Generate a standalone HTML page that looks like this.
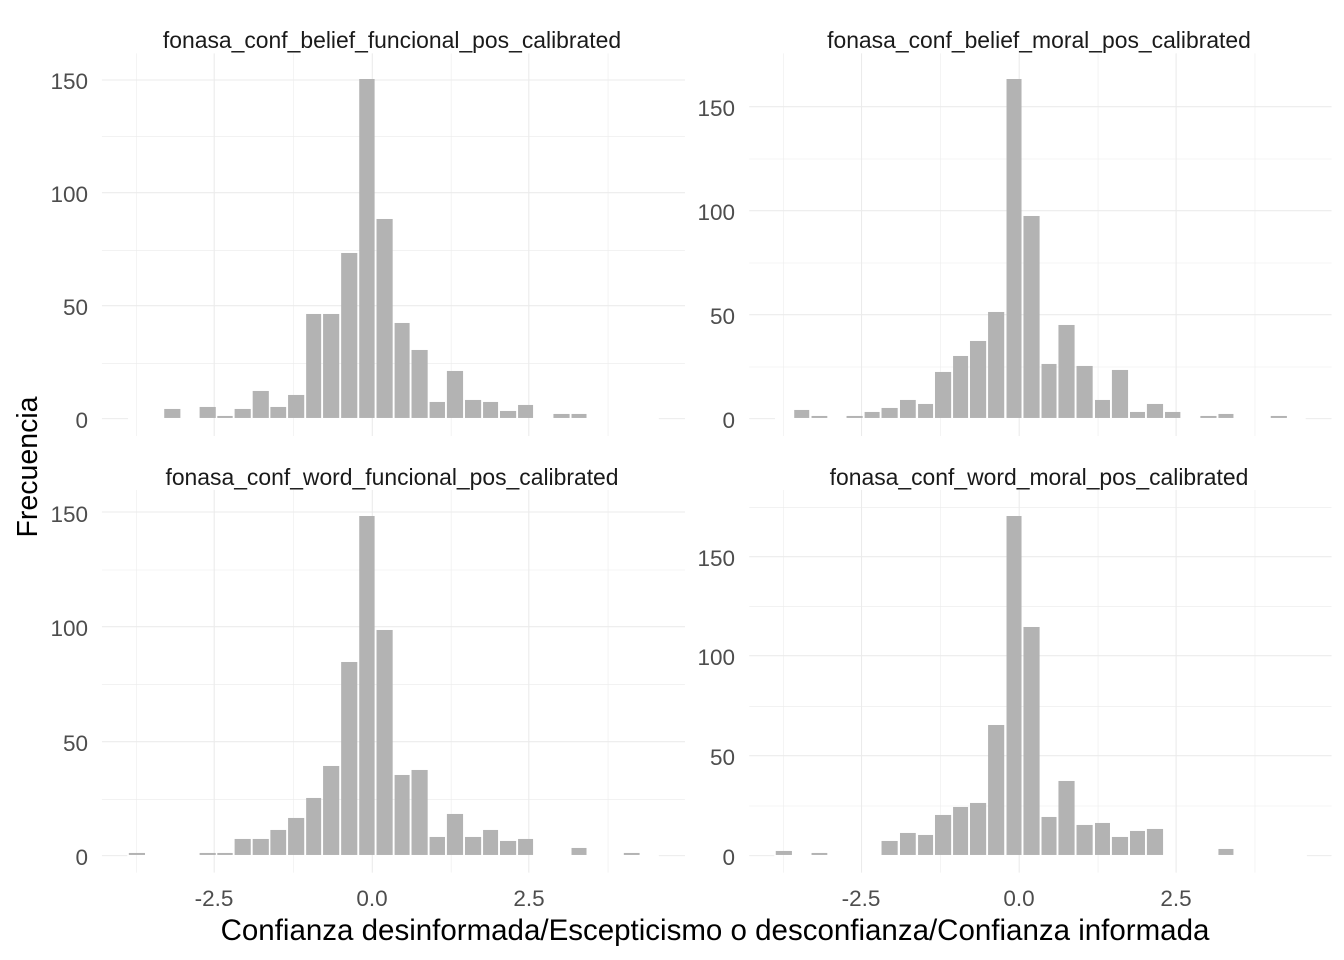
<!DOCTYPE html>
<html><head><meta charset="utf-8"><style>
body{margin:0;background:#fff}
svg{display:block;font-family:"Liberation Sans",sans-serif}
.mj{stroke:#ebebeb;stroke-width:1.1}
.mn{stroke:#ebebeb;stroke-width:0.55}
.b{fill:#b3b3b3}
.t{fill:#1a1a1a;font-size:22.9px;text-anchor:middle}
.y{fill:#4d4d4d;font-size:22.5px;text-anchor:end}
.x{fill:#4d4d4d;font-size:22.5px;text-anchor:middle}
</style></head><body>
<svg width="1344" height="960" viewBox="0 0 1344 960" xmlns="http://www.w3.org/2000/svg">
<rect width="1344" height="960" fill="#fff"/>
<defs>
<g id="vg1">
<line x1="121" y1="-20" x2="121" y2="1128" class="mn" vector-effect="non-scaling-stroke"/>
<line x1="529" y1="-20" x2="529" y2="1128" class="mn" vector-effect="non-scaling-stroke"/>
<line x1="939" y1="-20" x2="939" y2="1128" class="mn" vector-effect="non-scaling-stroke"/>
<line x1="1347" y1="-20" x2="1347" y2="1128" class="mn" vector-effect="non-scaling-stroke"/>
<line x1="323" y1="-20" x2="323" y2="1128" class="mj" vector-effect="non-scaling-stroke"/>
<line x1="734" y1="-20" x2="734" y2="1128" class="mj" vector-effect="non-scaling-stroke"/>
<line x1="1141" y1="-20" x2="1141" y2="1128" class="mj" vector-effect="non-scaling-stroke"/>
</g>
<g id="vg2">
<line x1="113" y1="-20" x2="113" y2="1128" class="mn" vector-effect="non-scaling-stroke"/>
<line x1="521" y1="-20" x2="521" y2="1128" class="mn" vector-effect="non-scaling-stroke"/>
<line x1="931" y1="-20" x2="931" y2="1128" class="mn" vector-effect="non-scaling-stroke"/>
<line x1="1339" y1="-20" x2="1339" y2="1128" class="mn" vector-effect="non-scaling-stroke"/>
<line x1="316" y1="-20" x2="316" y2="1128" class="mj" vector-effect="non-scaling-stroke"/>
<line x1="726" y1="-20" x2="726" y2="1128" class="mj" vector-effect="non-scaling-stroke"/>
<line x1="1134" y1="-20" x2="1134" y2="1128" class="mj" vector-effect="non-scaling-stroke"/>
</g>
</defs>

<g transform="translate(90,60) scale(0.3846,0.3333)">
<use href="#vg1"/>
<line x1="31" x2="1547" y1="229" y2="229" class="mn" vector-effect="non-scaling-stroke"/>
<line x1="31" x2="1547" y1="571" y2="571" class="mn" vector-effect="non-scaling-stroke"/>
<line x1="31" x2="1547" y1="910" y2="910" class="mn" vector-effect="non-scaling-stroke"/>
<line x1="31" x2="1547" y1="60" y2="60" class="mj" vector-effect="non-scaling-stroke"/>
<line x1="31" x2="1547" y1="398" y2="398" class="mj" vector-effect="non-scaling-stroke"/>
<line x1="31" x2="1547" y1="737" y2="737" class="mj" vector-effect="non-scaling-stroke"/>
<line x1="31" x2="99" y1="1076" y2="1076" class="mj" vector-effect="non-scaling-stroke"/>
<line x1="1479" x2="1547" y1="1076" y2="1076" class="mj" vector-effect="non-scaling-stroke"/>
<g class="b">
<rect x="193" y="1047" width="42" height="27"/><rect x="285" y="1041" width="42" height="33"/>
<rect x="331" y="1068" width="40" height="6"/><rect x="376" y="1047" width="42" height="27"/>
<rect x="423" y="993" width="42" height="81"/><rect x="469" y="1041" width="41" height="33"/>
<rect x="515" y="1005" width="42" height="69"/><rect x="562" y="762" width="39" height="312"/>
<rect x="606" y="762" width="42" height="312"/><rect x="653" y="579" width="42" height="495"/>
<rect x="700" y="57" width="40" height="1017"/><rect x="745" y="477" width="42" height="597"/>
<rect x="792" y="789" width="39" height="285"/><rect x="836" y="870" width="42" height="204"/>
<rect x="883" y="1026" width="40" height="48"/><rect x="928" y="933" width="42" height="141"/>
<rect x="975" y="1020" width="42" height="54"/><rect x="1022" y="1026" width="39" height="48"/>
<rect x="1066" y="1053" width="42" height="21"/><rect x="1113" y="1035" width="39" height="39"/>
<rect x="1205" y="1062" width="42" height="12"/><rect x="1252" y="1062" width="39" height="12"/>
</g>
</g>

<g transform="translate(740,60) scale(0.3846,0.3333)">
<use href="#vg2"/>
<line x1="24" x2="1538" y1="297" y2="297" class="mn" vector-effect="non-scaling-stroke"/>
<line x1="24" x2="1538" y1="609" y2="609" class="mn" vector-effect="non-scaling-stroke"/>
<line x1="24" x2="1538" y1="921" y2="921" class="mn" vector-effect="non-scaling-stroke"/>
<line x1="24" x2="1538" y1="140" y2="140" class="mj" vector-effect="non-scaling-stroke"/>
<line x1="24" x2="1538" y1="452" y2="452" class="mj" vector-effect="non-scaling-stroke"/>
<line x1="24" x2="1538" y1="764" y2="764" class="mj" vector-effect="non-scaling-stroke"/>
<line x1="24" x2="91" y1="1076" y2="1076" class="mj" vector-effect="non-scaling-stroke"/>
<line x1="1471" x2="1538" y1="1076" y2="1076" class="mj" vector-effect="non-scaling-stroke"/>
<g class="b">
<rect x="141" y="1050" width="39" height="24"/><rect x="186" y="1068" width="41" height="6"/>
<rect x="277" y="1068" width="42" height="6"/><rect x="324" y="1056" width="39" height="18"/>
<rect x="368" y="1044" width="42" height="30"/><rect x="416" y="1020" width="41" height="54"/>
<rect x="463" y="1032" width="39" height="42"/><rect x="507" y="936" width="42" height="138"/>
<rect x="554" y="888" width="39" height="186"/><rect x="598" y="843" width="42" height="231"/>
<rect x="645" y="756" width="42" height="318"/><rect x="693" y="57" width="39" height="1017"/>
<rect x="737" y="468" width="42" height="606"/><rect x="784" y="912" width="39" height="162"/>
<rect x="828" y="795" width="42" height="279"/><rect x="875" y="918" width="42" height="156"/>
<rect x="923" y="1020" width="39" height="54"/><rect x="967" y="930" width="42" height="144"/>
<rect x="1014" y="1056" width="39" height="18"/><rect x="1058" y="1032" width="42" height="42"/>
<rect x="1105" y="1056" width="40" height="18"/><rect x="1197" y="1068" width="42" height="6"/>
<rect x="1244" y="1062" width="39" height="12"/><rect x="1380" y="1068" width="42" height="6"/>
</g>
</g>

<g transform="translate(90,490) scale(0.3846,0.3333)">
<g transform="translate(0,20)"><use href="#vg1"/></g>
<line x1="31" x2="1547" y1="240" y2="240" class="mn" vector-effect="non-scaling-stroke"/>
<line x1="31" x2="1547" y1="583" y2="583" class="mn" vector-effect="non-scaling-stroke"/>
<line x1="31" x2="1547" y1="928" y2="928" class="mn" vector-effect="non-scaling-stroke"/>
<line x1="31" x2="1547" y1="66" y2="66" class="mj" vector-effect="non-scaling-stroke"/>
<line x1="31" x2="1547" y1="410" y2="410" class="mj" vector-effect="non-scaling-stroke"/>
<line x1="31" x2="1547" y1="755" y2="755" class="mj" vector-effect="non-scaling-stroke"/>
<line x1="31" x2="97" y1="1097" y2="1097" class="mj" vector-effect="non-scaling-stroke"/>
<line x1="1479" x2="1547" y1="1097" y2="1097" class="mj" vector-effect="non-scaling-stroke"/>
<g class="b">
<rect x="101" y="1089" width="42" height="6"/><rect x="285" y="1089" width="42" height="6"/>
<rect x="331" y="1089" width="40" height="6"/><rect x="376" y="1047" width="42" height="48"/>
<rect x="423" y="1047" width="42" height="48"/><rect x="469" y="1020" width="41" height="75"/>
<rect x="515" y="984" width="42" height="111"/><rect x="562" y="924" width="39" height="171"/>
<rect x="606" y="828" width="42" height="267"/><rect x="653" y="516" width="42" height="579"/>
<rect x="700" y="78" width="40" height="1017"/><rect x="745" y="420" width="42" height="675"/>
<rect x="792" y="855" width="39" height="240"/><rect x="836" y="840" width="42" height="255"/>
<rect x="883" y="1041" width="40" height="54"/><rect x="928" y="972" width="42" height="123"/>
<rect x="975" y="1041" width="42" height="54"/><rect x="1022" y="1020" width="39" height="75"/>
<rect x="1066" y="1053" width="42" height="42"/><rect x="1113" y="1047" width="39" height="48"/>
<rect x="1252" y="1074" width="39" height="21"/><rect x="1388" y="1089" width="41" height="6"/>
</g>
</g>

<g transform="translate(740,490) scale(0.3846,0.3333)">
<g transform="translate(0,20)"><use href="#vg2"/></g>
<line x1="24" x2="1538" y1="52" y2="52" class="mn" vector-effect="non-scaling-stroke"/>
<line x1="24" x2="1538" y1="349" y2="349" class="mn" vector-effect="non-scaling-stroke"/>
<line x1="24" x2="1538" y1="649" y2="649" class="mn" vector-effect="non-scaling-stroke"/>
<line x1="24" x2="1538" y1="948" y2="948" class="mn" vector-effect="non-scaling-stroke"/>
<line x1="24" x2="1538" y1="200" y2="200" class="mj" vector-effect="non-scaling-stroke"/>
<line x1="24" x2="1538" y1="497" y2="497" class="mj" vector-effect="non-scaling-stroke"/>
<line x1="24" x2="1538" y1="797" y2="797" class="mj" vector-effect="non-scaling-stroke"/>
<line x1="24" x2="89" y1="1097" y2="1097" class="mj" vector-effect="non-scaling-stroke"/>
<line x1="1474" x2="1538" y1="1097" y2="1097" class="mj" vector-effect="non-scaling-stroke"/>
<g class="b">
<rect x="93" y="1083" width="42" height="12"/><rect x="186" y="1089" width="41" height="6"/>
<rect x="368" y="1053" width="42" height="42"/><rect x="416" y="1029" width="41" height="66"/>
<rect x="463" y="1035" width="39" height="60"/><rect x="507" y="975" width="42" height="120"/>
<rect x="554" y="951" width="39" height="144"/><rect x="598" y="939" width="42" height="156"/>
<rect x="645" y="705" width="42" height="390"/><rect x="693" y="78" width="39" height="1017"/>
<rect x="737" y="411" width="42" height="684"/><rect x="784" y="981" width="39" height="114"/>
<rect x="828" y="873" width="42" height="222"/><rect x="875" y="1005" width="42" height="90"/>
<rect x="923" y="999" width="39" height="96"/><rect x="967" y="1041" width="42" height="54"/>
<rect x="1014" y="1023" width="39" height="72"/><rect x="1058" y="1017" width="42" height="78"/>
<rect x="1244" y="1077" width="39" height="18"/>
</g>
</g>

<text class="t" x="392" y="48">fonasa_conf_belief_funcional_pos_calibrated</text>
<text class="t" x="1039" y="48">fonasa_conf_belief_moral_pos_calibrated</text>
<text class="t" x="392" y="485">fonasa_conf_word_funcional_pos_calibrated</text>
<text class="t" x="1039" y="485">fonasa_conf_word_moral_pos_calibrated</text>

<text class="y" x="88" y="89">150</text><text class="y" x="88" y="202">100</text>
<text class="y" x="88" y="315">50</text><text class="y" x="88" y="428">0</text>
<text class="y" x="735" y="116">150</text><text class="y" x="735" y="220">100</text>
<text class="y" x="735" y="324">50</text><text class="y" x="735" y="428">0</text>
<text class="y" x="88" y="522">150</text><text class="y" x="88" y="636">100</text>
<text class="y" x="88" y="751">50</text><text class="y" x="88" y="865">0</text>
<text class="y" x="735" y="566">150</text><text class="y" x="735" y="665">100</text>
<text class="y" x="735" y="765">50</text><text class="y" x="735" y="865">0</text>

<text class="x" x="214" y="906">-2.5</text><text class="x" x="372" y="906">0.0</text><text class="x" x="529" y="906">2.5</text>
<text class="x" x="861" y="906">-2.5</text><text class="x" x="1019" y="906">0.0</text><text class="x" x="1176" y="906">2.5</text>

<text x="715" y="940" fill="#000" font-size="29.5" text-anchor="middle">Confianza desinformada/Escepticismo o desconfianza/Confianza informada</text>
<text transform="translate(37,467) rotate(-90)" fill="#000" font-size="28.5" text-anchor="middle">Frecuencia</text>
</svg>
</body></html>
